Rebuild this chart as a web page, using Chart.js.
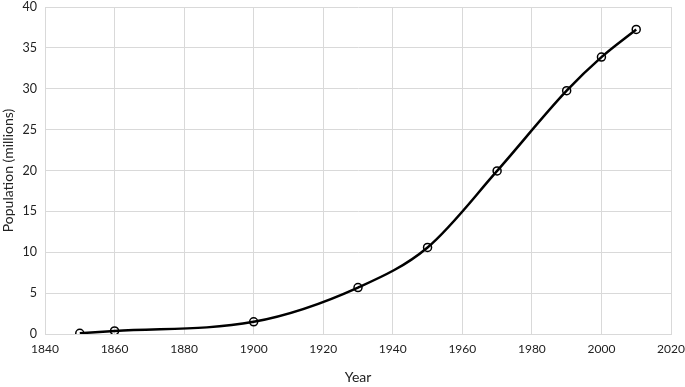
<!DOCTYPE html>
<html>
<head>
<meta charset="utf-8">
<script src="https://cdn.jsdelivr.net/npm/chart.js@4"></script>
<style>
  html, body { margin: 0; padding: 0; background: #fff; }
  #wrap { width: 685px; height: 387px; }
</style>
</head>
<body>
<div id="wrap"><canvas id="chart"></canvas></div>
<script>
const years = [1850, 1860, 1900, 1930, 1950, 1970, 1990, 2000, 2010]
const population = [0.09, 0.38, 1.49, 5.68, 10.59, 19.95, 29.76, 33.87, 37.25]

const xTicks = [1840, 1860, 1880, 1900, 1920, 1940, 1960, 1980, 2000, 2020]
const yTicks = [0, 5, 10, 15, 20, 25, 30, 35, 40]

const gridColor = '#d9d9d9'
const fontFamily = 'Lato, "Open Sans", sans-serif'

Chart.defaults.font.family = fontFamily
Chart.defaults.color = '#222'

const points = years.map((y, i) => ({ x: y, y: population[i] }))

new Chart(document.getElementById('chart'), {
  type: 'line',
  data: {
    datasets: [{
      data: points,
      borderColor: '#000',
      borderWidth: 2.5,
      cubicInterpolationMode: 'monotone',
      pointRadius: 4,
      pointBorderWidth: 1.5,
      pointBorderColor: '#000',
      pointBackgroundColor: 'rgba(0,0,0,0)',
      fill: false,
    }],
  },
  options: {
    responsive: true,
    maintainAspectRatio: false,
    animation: false,
    layout: { padding: { left: 0, right: 14, top: 7, bottom: 0 } },
    plugins: { legend: { display: false }, tooltip: { enabled: false } },
    scales: {
      x: {
        type: 'linear',
        min: xTicks[0],
        max: xTicks[xTicks.length - 1],
        afterBuildTicks: axis => { axis.ticks = xTicks.map(v => ({ value: v })) },
        ticks: { font: { size: 12 }, padding: 8, callback: v => String(v), maxRotation: 0 },
        grid: { color: gridColor, lineWidth: 1, drawTicks: false },
        border: { color: gridColor },
        title: { display: true, text: 'Year', font: { size: 14 }, padding: { top: 10, bottom: 1 } },
        afterFit: axis => { axis.height = 53; axis.paddingLeft = 0; axis.paddingRight = 0 },
      },
      y: {
        min: yTicks[0],
        max: yTicks[yTicks.length - 1],
        afterBuildTicks: axis => { axis.ticks = yTicks.map(v => ({ value: v })) },
        ticks: { font: { size: 12.5 }, padding: 8 },
        grid: { color: gridColor, lineWidth: 1, drawTicks: false },
        border: { color: gridColor },
        title: { display: true, text: 'Population (millions)', font: { size: 14 }, padding: 0 },
        afterFit: axis => { axis.width = 45; axis.paddingTop = 0; axis.paddingBottom = 0 },
      },
    },
  },
})
</script>
</body>
</html>
